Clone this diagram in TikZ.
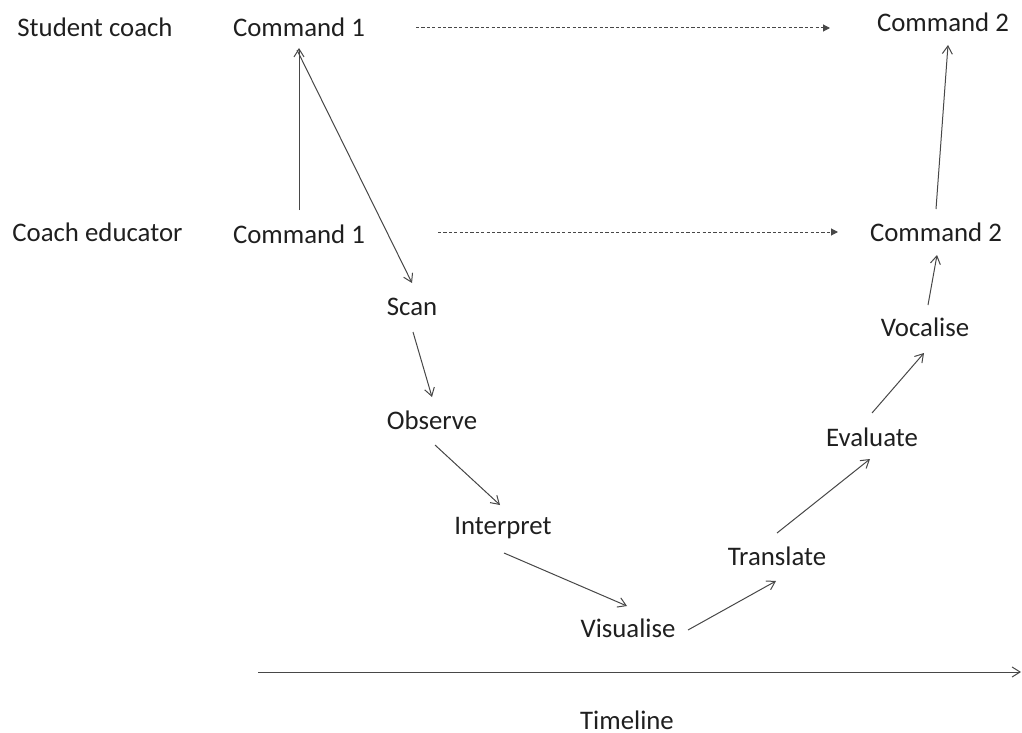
\documentclass[tikz,border=0pt]{standalone}
\usepackage{fontspec}
\setmainfont{Carlito}
\usetikzlibrary{arrows.meta,calc}

\begin{document}
\begin{tikzpicture}[x=0.5pt,y=-0.5pt,
  lbl/.style={inner sep=0pt,text=black!88,font=\fontsize{13.4}{16}\selectfont},
  arr/.style={draw=black!72,line width=0.5pt,-{Straight Barb[length=4pt,width=5pt,line width=0.5pt]}},
  dasharr/.style={draw=black!72,line width=0.5pt,dash pattern=on 1.6pt off 1.1pt,
                  -{Triangle[length=3.5pt,width=3.5pt]}}]
\useasboundingbox (0,0) rectangle (1022,733);

% row labels
\node[lbl,anchor=west] (sc) at (17,27) {Student coach};
\node[lbl,anchor=west] (ce) at (12,232) {Coach educator};

% commands
\node[lbl] (c1t) at (299,27) {Command 1};
\node[lbl] (c1b) at (299,234) {Command 1};
\node[lbl] (c2t) at (943,22) {Command 2};
\node[lbl] (c2b) at (936,232) {Command 2};

% steps of the process
\node[lbl] (scan) at (412,307) {Scan};
\node[lbl] (obs) at (432,420) {Observe};
\node[lbl] (interp) at (503,528) {Interpret};
\node[lbl] (vis) at (628,628) {Visualise};
\node[lbl] (trans) at (777,556) {Translate};
\node[lbl] (eval) at (872,437) {Evaluate};
\node[lbl] (voc) at (925,327) {Vocalise};

% timeline
\coordinate (tl0) at (258,672);
\coordinate (tl1) at (1021,672);
\node[lbl] (tl) at (627,720) {Timeline};
\draw[arr] (tl0) -- (tl1);

% connectors
\draw[arr] ($(c1b)+(0,-24)$) -- ($(c1t)+(0,21)$);
\draw[arr] ($(c1t)+(-2,23)$) -- ($(scan)+(0,-24)$);
\draw[arr] ($(scan)+(1,25)$) -- ($(obs)+(0,-23)$);
\draw[arr] ($(obs)+(3,25)$) -- ($(interp)+(-3,-23)$);
\draw[arr] ($(interp)+(1,25)$) -- ($(vis)+(-1,-22)$);
\draw[arr] ($(vis)+(60,2)$) -- ($(trans)+(-1,25)$);
\draw[arr] ($(trans)+(0,-23)$) -- ($(eval)+(-2,22)$);
\draw[arr] ($(eval)+(0,-24)$) -- ($(voc)+(-1,26)$);
\draw[arr] ($(voc)+(3,-22)$) -- ($(c2b)+(1,23)$);
\draw[arr] ($(c2b)+(0,-23)$) -- ($(c2t)+(5,23)$);

% dashed links between the two command rows
\draw[dasharr] ($(c1t)+(117,1)$) -- ($(c2t)+(-113,6)$);
\draw[dasharr] ($(c1b)+(139,-2)$) -- ($(c2b)+(-98,0)$);
\end{tikzpicture}
\end{document}
